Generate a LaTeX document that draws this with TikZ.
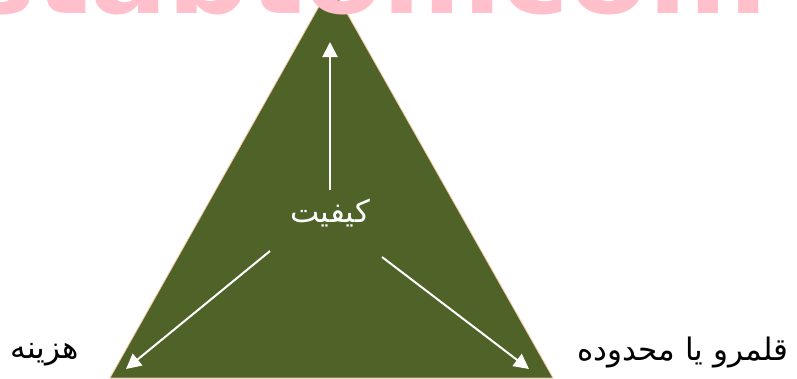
\documentclass[tikz,border=0pt]{standalone}
\usepackage{fontspec}
\usetikzlibrary{arrows.meta}
\TeXXeTstate=1
\newfontfamily\arabicfont[Script=Arabic]{DejaVu Sans}
\newfontfamily\wmfont{DejaVu Sans}
\definecolor{olive}{HTML}{4F6228}
\definecolor{edgetan}{HTML}{F4C7A0}
\definecolor{wmpink}{HTML}{FFC0CB}
\tikzset{
  warrow/.style={draw=white, line width=2pt, -{Triangle[length=15pt,width=15pt]}},
  lbl/.style={font=\arabicfont\fontsize{31}{36}\selectfont, inner sep=0pt},
}
\begin{document}
\begin{tikzpicture}[x=1pt,y=-1pt]
\useasboundingbox (0,0) rectangle (797,378);
\clip (0,0) rectangle (797,378);
% triangle
\coordinate (apex) at (331,-15);
\coordinate (bl) at (110,378);
\coordinate (br) at (553,378);
\fill[olive, draw=edgetan, line width=0.8pt] (apex) -- (br) -- (bl) -- cycle;
% watermark
\node[anchor=base east, inner sep=0pt, text=wmpink, xscale=1.08, font=\wmfont\bfseries\fontsize{106}{106}\selectfont] (wm) at (768,13) {stabtomcom};
% labels
\node[lbl, text=white] (q) at (330,213) {\beginR كيفيت\endR};
\node[lbl, text=black] (c) at (45,355) {\beginR هزينه\endR};
\node[lbl, text=black] (s) at (683,352) {\beginR قلمرو يا محدوده\endR};
% arrows
\coordinate (up0) at (330,190);
\coordinate (up1) at (330,42);
\coordinate (l0) at (270,251);
\coordinate (l1) at (126,369);
\coordinate (r0) at (382,257);
\coordinate (r1) at (529,369);
\draw[warrow] (up0) -- (up1);
\draw[warrow] (l0) -- (l1);
\draw[warrow] (r0) -- (r1);
\end{tikzpicture}
\end{document}
